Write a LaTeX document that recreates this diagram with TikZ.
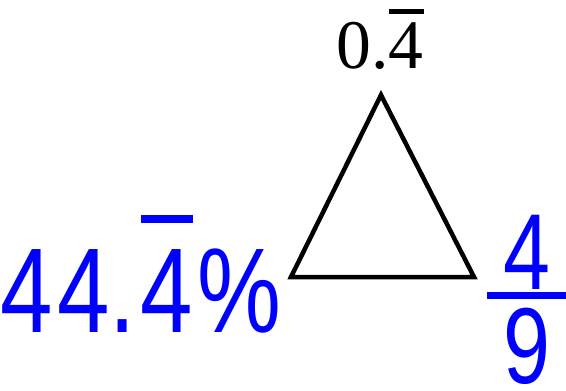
\documentclass[tikz,border=0pt]{standalone}
\usepackage{fontspec}
\usepackage{xcolor}
\usepackage{tikz}
\setmainfont{Liberation Serif}
\newfontfamily\handfont{Liberation Sans}
\definecolor{handBlue}{HTML}{0000FF}
% bar over a repeating digit
\newcommand\repbar[2][0.12em]{\leavevmode\vbox{\hrule height 0.065em\kern#1\hbox{#2}}}
% fraction with a drawn bar
\newcommand\handfrac[2]{\vbox{\halign{\hfil##\hfil\cr
  \kern0.2em#1\kern0.2em\cr\noalign{\kern0.02em\hrule height 0.07em\kern0.08em}
  #2\cr}}}

\begin{document}
\begin{tikzpicture}[
  x=0.025cm, y=-0.025cm,
  tri/.style={line width=3.2pt, line join=miter},
  lbl/.style={inner sep=0pt, font=\fontsize{49.5}{55}\selectfont},
  hand/.style={inner sep=0pt, text=handBlue, yscale=1.28, transform shape,
    font=\handfont\fontsize{67}{72}\selectfont}
]
\useasboundingbox (0,0) rectangle (566,390);

\coordinate (apex)  at (381,95);
\coordinate (left)  at (291,277);
\coordinate (right) at (474,277);
\draw[tri] (apex) -- (left) -- (right) -- cycle;

\node[lbl, anchor=base] (dec) at (380,68) {0.\repbar{4}};
\node[hand, anchor=base] (pct) at (141,332) {4\kern0.05em4.\kern0.05em\repbar[0.22em]{4}\kern0.05em\%};
\node[hand, anchor=center, font=\handfont\fontsize{60}{64}\selectfont] (frac) at (527,300) {\handfrac{4}{9}};

\end{tikzpicture}
\end{document}
